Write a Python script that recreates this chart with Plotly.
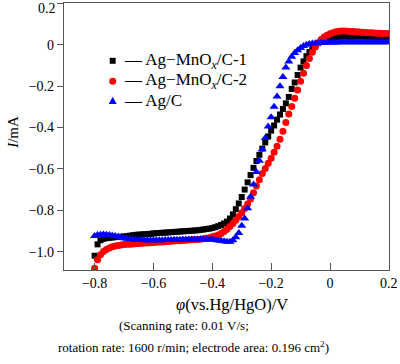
import plotly.graph_objects as go

# Potential (V vs. Hg/HgO)
potential = [
    -0.80, -0.79, -0.78, -0.77, -0.76, -0.75, -0.74, -0.73, -0.72, -0.71,
    -0.70, -0.69, -0.68, -0.67, -0.66, -0.65, -0.64, -0.63, -0.62, -0.61,
    -0.60, -0.59, -0.58, -0.57, -0.56, -0.55, -0.54, -0.53, -0.52, -0.51,
    -0.50, -0.49, -0.48, -0.47, -0.46, -0.45, -0.44, -0.43, -0.42, -0.41,
    -0.40, -0.39, -0.38, -0.37, -0.36, -0.35, -0.34, -0.33, -0.32, -0.31,
    -0.30, -0.29, -0.28, -0.27, -0.26, -0.25, -0.24, -0.23, -0.22, -0.21,
    -0.20, -0.19, -0.18, -0.17, -0.16, -0.15, -0.14, -0.13, -0.12, -0.11,
    -0.10, -0.09, -0.08, -0.07, -0.06, -0.05, -0.04, -0.03, -0.02, -0.01,
    0.00, 0.01, 0.02, 0.03, 0.04, 0.05, 0.06, 0.07, 0.08, 0.09,
    0.10, 0.11, 0.12, 0.13, 0.14, 0.15, 0.16, 0.17, 0.18, 0.19, 0.20,
]

# Current (mA)
current_c1 = [
    -1.02, -0.965, -0.945, -0.938, -0.935, -0.933, -0.932, -0.930, -0.929, -0.928,
    -0.927, -0.925, -0.923, -0.921, -0.919, -0.918, -0.917, -0.916, -0.915, -0.914,
    -0.912, -0.911, -0.910, -0.909, -0.908, -0.907, -0.906, -0.905, -0.904, -0.903,
    -0.902, -0.901, -0.900, -0.899, -0.898, -0.897, -0.895, -0.893, -0.891, -0.889,
    -0.886, -0.882, -0.877, -0.871, -0.864, -0.855, -0.840, -0.820, -0.795, -0.767,
    -0.736, -0.700, -0.665, -0.630, -0.595, -0.562, -0.532, -0.502, -0.472, -0.443,
    -0.415, -0.390, -0.362, -0.337, -0.310, -0.283, -0.252, -0.213, -0.182, -0.146,
    -0.110, -0.080, -0.055, -0.035, -0.017, -0.003, 0.008, 0.016, 0.023, 0.029,
    0.033, 0.036, 0.038, 0.039, 0.040, 0.040, 0.040, 0.040, 0.040, 0.040,
    0.040, 0.040, 0.040, 0.039, 0.039, 0.039, 0.039, 0.038, 0.038, 0.038, 0.038,
]

current_c2 = [
    -1.08, -1.04, -1.015, -1.000, -0.990, -0.982, -0.977, -0.973, -0.970, -0.968,
    -0.966, -0.965, -0.964, -0.963, -0.962, -0.961, -0.960, -0.959, -0.958, -0.957,
    -0.956, -0.955, -0.954, -0.953, -0.952, -0.951, -0.950, -0.949, -0.948, -0.947,
    -0.946, -0.945, -0.944, -0.943, -0.942, -0.941, -0.940, -0.938, -0.936, -0.933,
    -0.928, -0.924, -0.920, -0.913, -0.903, -0.892, -0.879, -0.864, -0.848, -0.830,
    -0.812, -0.792, -0.770, -0.745, -0.715, -0.683, -0.652, -0.622, -0.598, -0.573,
    -0.548, -0.520, -0.490, -0.456, -0.418, -0.375, -0.335, -0.298, -0.258, -0.218,
    -0.176, -0.137, -0.100, -0.066, -0.036, -0.010, 0.010, 0.026, 0.038, 0.047,
    0.054, 0.059, 0.063, 0.066, 0.067, 0.067, 0.066, 0.065, 0.064, 0.063,
    0.062, 0.061, 0.060, 0.059, 0.058, 0.057, 0.056, 0.056, 0.055, 0.055, 0.055,
]

current_agc = [
    -0.925, -0.920, -0.918, -0.917, -0.918, -0.920, -0.922, -0.925, -0.928, -0.932,
    -0.935, -0.938, -0.940, -0.942, -0.943, -0.944, -0.944, -0.945, -0.945, -0.945,
    -0.945, -0.945, -0.945, -0.945, -0.944, -0.944, -0.944, -0.943, -0.943, -0.943,
    -0.942, -0.942, -0.941, -0.941, -0.940, -0.940, -0.940, -0.940, -0.940, -0.941,
    -0.942, -0.944, -0.946, -0.948, -0.950, -0.952, -0.952, -0.945, -0.930, -0.910,
    -0.875, -0.840, -0.790, -0.735, -0.675, -0.615, -0.560, -0.505, -0.450, -0.395,
    -0.350, -0.300, -0.250, -0.200, -0.155, -0.110, -0.080, -0.058, -0.040, -0.026,
    -0.015, -0.006, 0.000, 0.004, 0.006, 0.008, 0.009, 0.010, 0.010, 0.011,
    0.011, 0.011, 0.011, 0.012, 0.012, 0.012, 0.012, 0.012, 0.012, 0.012,
    0.012, 0.012, 0.012, 0.012, 0.012, 0.012, 0.012, 0.012, 0.012, 0.012, 0.012,
]

series_names = [
    "Ag−MnO<sub><i>x</i></sub>/C-1",
    "Ag−MnO<sub><i>x</i></sub>/C-2",
    "Ag/C",
]
series_colors = ["#000000", "#ff0000", "#0000ff"]
series_symbols = ["square", "circle", "triangle-up"]
series_sizes = [6, 7, 8]

x_tickvals = [-0.8, -0.6, -0.4, -0.2, 0, 0.2]
x_ticktext = ["−0.8", "−0.6", "−0.4", "−0.2", "0", "0.2"]
y_tickvals = [0.2, 0, -0.2, -0.4, -0.6, -0.8, -1.0]
y_ticktext = ["0.2", "0", "−0.2", "−0.4", "−0.6", "−0.8", "−1.0"]

FONT = "Liberation Serif, Times New Roman, serif"

fig = go.Figure()
for name, ys, col, sym, sz in zip(series_names, [current_c1, current_c2, current_agc],
                                  series_colors, series_symbols, series_sizes):
    fig.add_trace(go.Scatter(
        x=potential, y=ys, mode="markers", name=name, showlegend=False,
        marker=dict(color=col, symbol=sym, size=sz, line=dict(width=0)),
    ))

axis_common = dict(
    showline=True, linecolor="#555555", linewidth=1.2, mirror=True,
    showgrid=False, zeroline=False, tickcolor="#555555",
    tickfont=dict(family=FONT, size=14, color="#000000"),
    ticklabeloverflow="allow",
)

# Top y label (0.2) is drawn as an annotation nudged inside the page
y_ticktext_axis = [""] + y_ticktext[1:]

# --- plot geometry (pixels) used to place legend / text in paper coords
L, R, T, B = 64, 9, 2, 94
PW, PH = 400 - L - R, 364 - T - B


def px(xp):
    return (xp - L) / PW


def py(yp):
    return (364 - B - yp) / PH


annotations = [
    dict(text=y_ticktext[0], xref="paper", yref="paper", x=px(58), y=py(7.5),
         showarrow=False, xanchor="right", yanchor="middle",
         font=dict(family=FONT, size=14)),
    dict(text="<i>I</i>/mA", xref="paper", yref="paper", x=px(12), y=py(132),
         textangle=-90, showarrow=False, xanchor="center", yanchor="middle",
         font=dict(family=FONT, size=15)),
    dict(text="<i>φ</i>(vs.Hg/HgO)/V", xref="paper", yref="paper", x=px(233), y=py(305),
         showarrow=False, xanchor="center", yanchor="middle",
         font=dict(family=FONT, size=16.5)),
    dict(text="(Scanning rate: 0.01 V/s;", xref="paper", yref="paper", x=px(117), y=py(326),
         showarrow=False, xanchor="left", yanchor="middle",
         font=dict(family=FONT, size=13)),
    dict(text="rotation rate: 1600 r/min; electrode area: 0.196 cm<sup>2</sup>)",
         xref="paper", yref="paper", x=px(56), y=py(347),
         showarrow=False, xanchor="left", yanchor="middle",
         font=dict(family=FONT, size=13)),
]

# manual legend: marker glyph + "— name"
legend_rows = [60, 80.5, 100]
shapes = []
mx = 113
for i, (name, col, sym) in enumerate(zip(series_names, series_colors, series_symbols)):
    yc = legend_rows[i]
    if sym == "square":
        shapes.append(dict(type="rect", xref="paper", yref="paper",
                           x0=px(mx - 3), x1=px(mx + 3), y0=py(yc + 3), y1=py(yc - 3),
                           fillcolor=col, line=dict(width=0)))
    elif sym == "circle":
        shapes.append(dict(type="circle", xref="paper", yref="paper",
                           x0=px(mx - 3.5), x1=px(mx + 3.5), y0=py(yc + 3.5), y1=py(yc - 3.5),
                           fillcolor=col, line=dict(width=0)))
    else:
        path = "M {} {} L {} {} L {} {} Z".format(
            px(mx - 4), py(yc + 3.5), px(mx + 4), py(yc + 3.5), px(mx), py(yc - 4))
        shapes.append(dict(type="path", xref="paper", yref="paper", path=path,
                           fillcolor=col, line=dict(width=0)))
    annotations.append(dict(text="— " + name, xref="paper", yref="paper",
                            x=px(122), y=py(yc), showarrow=False,
                            xanchor="left", yanchor="middle",
                            font=dict(family=FONT, size=17, color="#000000")))

fig.update_layout(
    width=400, height=364,
    margin=dict(l=L, r=R, t=T, b=B),
    paper_bgcolor="white", plot_bgcolor="white",
    font=dict(family=FONT, color="#000000"),
    xaxis=dict(range=[-0.904, 0.2005], tickvals=x_tickvals, ticktext=x_ticktext,
               ticks="inside", ticklen=7, **axis_common),
    yaxis=dict(range=[-1.089, 0.2024], tickvals=y_tickvals, ticktext=y_ticktext_axis,
               ticks="outside", ticklen=6, **axis_common),
    showlegend=False,
    annotations=annotations,
    shapes=shapes,
)

fig.write_html(
    "out.html",
    config={"displayModeBar": False},
    post_script="document.body.style.margin='0';document.body.style.padding='0';"
                "document.documentElement.style.overflow='hidden';",
)
